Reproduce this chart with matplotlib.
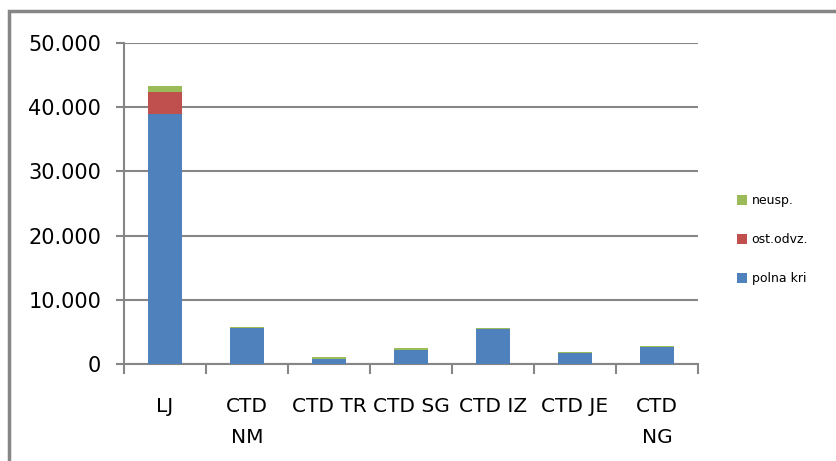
import matplotlib
matplotlib.use("Agg")
import matplotlib.pyplot as plt
from matplotlib.patches import Rectangle
from matplotlib.ticker import FuncFormatter
import numpy as np

categories = ["LJ", "CTD\nNM", "CTD TR", "CTD SG", "CTD IZ", "CTD JE", "CTD\nNG"]
polna_kri = [39000, 5600, 800, 2200, 5400, 1700, 2650]
ost_odvz = [3300, 30, 20, 30, 20, 20, 20]
neusp = [1000, 150, 300, 300, 150, 170, 200]
series_labels = ["polna kri", "ost.odvz.", "neusp."]
colors = ["#4F81BD", "#C0504D", "#9BBB59"]
yticks = [0, 10000, 20000, 30000, 40000, 50000]

fig = plt.figure(figsize=(8.36, 4.61), dpi=100)
ax = fig.add_axes([124/836, 97/461, 574/836, 321/461])

x = np.arange(len(categories))
w = 0.41
b1 = ax.bar(x, polna_kri, w, color=colors[0], label=series_labels[0], zorder=3)
b2 = ax.bar(x, ost_odvz, w, bottom=polna_kri, color=colors[1], label=series_labels[1], zorder=3)
bottom2 = np.array(polna_kri) + np.array(ost_odvz)
b3 = ax.bar(x, neusp, w, bottom=bottom2, color=colors[2], label=series_labels[2], zorder=3)

grey = "#868686"
ax.set_xlim(-0.5, len(categories) - 0.5)
ax.set_ylim(0, 50000)
ax.set_yticks(yticks)
ax.yaxis.set_major_formatter(FuncFormatter(lambda v, p: f"{int(v):,}".replace(",", ".")))
ax.yaxis.grid(True, color=grey, linewidth=1.5, zorder=0)
ax.set_axisbelow(True)

ax.set_xticks(x)
ax.set_xticklabels(categories, linespacing=1.75)
ax.set_xticks(np.arange(-0.5, len(categories), 1.0), minor=True)
ax.tick_params(axis="x", which="major", length=0, pad=24, labelsize=14.5)
ax.tick_params(axis="x", which="minor", length=7.5, width=1.5, color=grey, direction="out")
ax.tick_params(axis="y", which="major", length=5.5, width=1.5, color=grey, pad=11, labelsize=15)

for s in ["top", "right"]:
    ax.spines[s].set_visible(False)
for s in ["left", "bottom"]:
    ax.spines[s].set_color(grey)
    ax.spines[s].set_linewidth(1.5)

handles = [b3, b2, b1]
labels = [series_labels[2], series_labels[1], series_labels[0]]
ax.legend(handles, labels, loc="center left", bbox_to_anchor=(0.881, 0.48),
          bbox_transform=fig.transFigure, frameon=False, fontsize=9,
          handlelength=0.85, handleheight=0.85, handletextpad=0.35,
          labelspacing=2.1, borderaxespad=0, borderpad=0)

fig.add_artist(Rectangle((8.5/836, -0.1), 1.2, (461-11)/461 + 0.1,
                         transform=fig.transFigure, fill=False,
                         edgecolor=grey, linewidth=2.5))

fig.savefig("out.png", dpi=100)
